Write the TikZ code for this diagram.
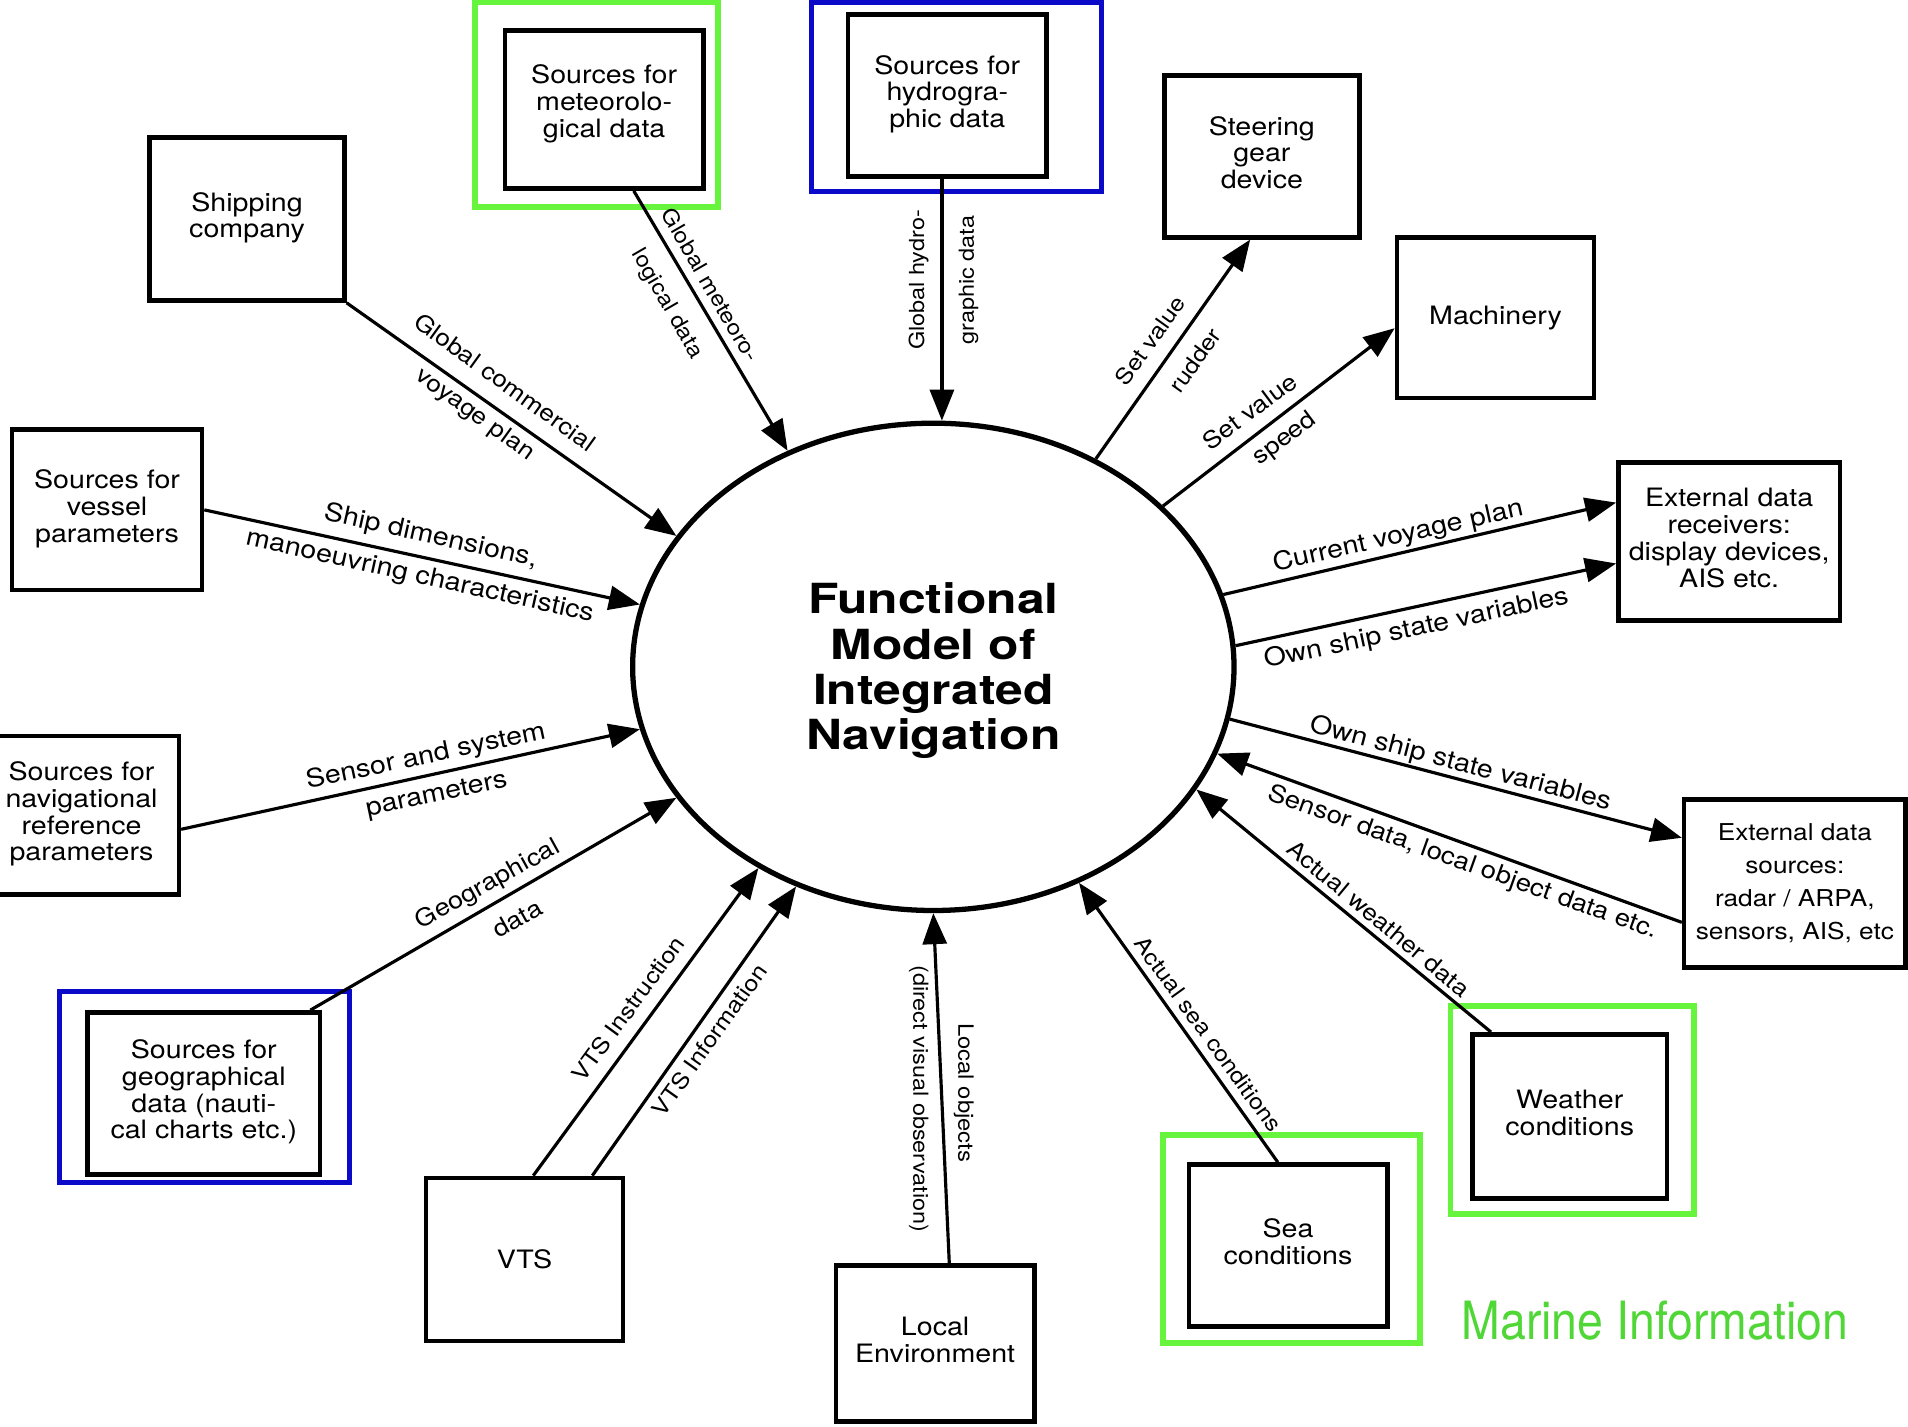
\documentclass[tikz,border=0pt]{standalone}
\usepackage{fontspec}
\newfontfamily\dfont[FakeStretch=1.13]{TeX Gyre Heros}
\newfontfamily\tfont[FakeStretch=1.2]{TeX Gyre Heros}
\newfontfamily\mfont[FakeStretch=0.88]{TeX Gyre Heros}
\usetikzlibrary{shapes.geometric,arrows.meta,fit,calc}
\definecolor{hlgreen}{RGB}{102,245,60}
\definecolor{mgreen}{RGB}{80,215,55}
\definecolor{hlblue}{RGB}{10,10,200}
\newcommand{\mlines}[1]{\begin{tabular}{@{}c@{}}#1\end{tabular}}
\begin{document}
\begin{tikzpicture}[x=0.012168cm, y=-0.012168cm,
 box/.style args={#1/#2}{draw, line width=1.3pt, inner sep=0pt,
   minimum width=#1*0.012168cm, minimum height=#2*0.012168cm,
   font=\dfont\fontsize{7.2}{7.6}\selectfont},
 lbl/.style={inner sep=0pt, font=\dfont\fontsize{#1}{#1}\selectfont},
 lbl/.default=7.2,
 arr/.style={line width=0.9pt, -{Triangle[length=3.1mm,width=2.4mm]}},
 hlg/.style={draw=hlgreen, line width=1.7pt, inner sep=0pt},
 hlb/.style={draw=hlblue, line width=1.4pt, inner sep=0pt}]
\useasboundingbox (0,0) rectangle (1568,1172);
\clip (0,0) rectangle (1568,1172);

% highlight frames
\node[hlg, fit={(390,2) (590,170)}] (meteoframe) {};
\node[hlb, fit={(667,2) (905,157)}] (hydroframe) {};
\node[hlb, fit={(49,815) (287,972)}] (geoframe) {};
\node[hlg, fit={(1192,827) (1392,998)}] (weatherframe) {};
\node[hlg, fit={(956,933) (1167,1104)}] (seaframe) {};

% central ellipse
\node[draw, ellipse, line width=1.5pt, inner sep=0pt, minimum width=6.01cm, minimum height=4.87cm,
      font=\tfont\bfseries\fontsize{11.8}{12.9}\selectfont] (fm) at (767,548)
      {\mlines{\rule{0pt}{12.4pt}Functional\\Model of\\Integrated\\Navigation}};

% boxes
\node[box=160/134] (ship) at (203,180) {\mlines{Shipping\\company}};
\node[box=163/130] (meteo) at (496.5,90) {\mlines{Sources for\\meteorolo-\\gical data\\[2.5pt]}};
\node[box=163/133] (hydro) at (778.5,78.5) {\mlines{Sources for\\hydrogra-\\phic data}};
\node[box=160/133] (steer) at (1037,128.5) {\mlines{Steering\\gear\\device}};
\node[box=162/132] (mach) at (1229,261) {Machinery};
\node[box=182/130] (recv) at (1421,445) {\mlines{External data\\receivers:\\display devices,\\AIS etc.}};
\node[box=182/138, font=\dfont\fontsize{6.6}{9.3}\selectfont] (src) at (1475,726) {\mlines{External data\\sources:\\radar / ARPA,\\sensors, AIS, etc}};
\node[box=160/135] (weather) at (1290,917.5) {\mlines{Weather\\conditions}};
\node[box=163/133] (sea) at (1058.5,1023.5) {\mlines{Sea\\conditions}};
\node[box=163/128] (local) at (768.5,1104) {\mlines{Local\\Environment}};
\node[box=162/134] (vts) at (431,1035) {VTS};
\node[box=191/133] (geo) at (167.5,898.5) {\mlines{Sources for\\geographical\\data (nauti-\\cal charts etc.)}};
\node[box=160/130] (nav) at (67,670) {\mlines{Sources for\\navigational\\reference\\parameters}};
\node[box=156/132] (vessel) at (88,419) {\mlines{Sources for\\vessel\\parameters}};

% connectors
\draw[arr] (ship.south east) -- (fm.153.7);
\draw[arr] (vessel.east) -- (fm.168);
\draw[arr] (meteo.-70) -- (fm.124.9);
\draw[arr] (hydro.south -| fm.88.3) -- (fm.88.3);
\draw[arr] (fm.52.5) -- (steer.-98);
\draw[arr] (fm.35.9) -- (mach.186);
\draw[arr] (fm.14.2) -- (recv.161.8);
\draw[arr] (fm.4.2) -- (recv.191.8);
\draw[arr] (fm.-10.5) -- (src.158.4);
\draw[arr] (src.199.4) -- (fm.-17.3);
\draw[arr] (weather.133.9) -- (fm.-25.6);
\draw[arr] (sea.97.3) -- (fm.-56.7);
\draw[arr] (local.80.8) -- (fm.south);
\draw[arr] (vts.84.9) -- (fm.229.2);
\draw[arr] (vts.51.1) -- (fm.238.1);
\draw[arr] (geo.38.9) -- (fm.207.6);
\draw[arr] (nav.-8.3) -- (fm.192.2);

% connector labels
\node[lbl=6.6, rotate=-35.8] (l1a) at (415,314) {Global commercial};
\node[lbl=6.6, rotate=-35.8] (l1b) at (390,341) {voyage plan};
\node[lbl=6.1, rotate=-60] (l2a) at (584,234) {Global meteoro-};
\node[lbl=6.1, rotate=-60] (l2b) at (548,250) {logical data};
\node[lbl=5.9, rotate=90] (l3a) at (755,230) {Global hydro-};
\node[lbl=5.9, rotate=90] (l3b) at (796,230) {graphic data};
\node[lbl=6.3, rotate=54.4] (l4a) at (945,280) {Set value};
\node[lbl=6.3, rotate=54.4] (l4b) at (982,296) {rudder};
\node[lbl=6.7, rotate=36.8] (l5a) at (1027,338) {Set value};
\node[lbl=6.7, rotate=36.8] (l5b) at (1056,361) {speed};
\node[lbl, rotate=12.6] (l6) at (1149,441) {Current voyage plan};
\node[lbl, rotate=12] (l7) at (1164,517) {Own ship state variables};
\node[lbl, rotate=-14.6] (l8) at (1200,628) {Own ship state variables};
\node[lbl=6.9, rotate=-19.7] (l9) at (1202,709) {Sensor data, local object data etc.};
\node[lbl=6.55, rotate=-39.7] (l10) at (1133,755) {Actual weather data};
\node[lbl=6.25, rotate=-54.2] (l11) at (993,850) {Actual sea conditions};
\node[lbl=6.0, rotate=-90] (l12a) at (792,898) {Local objects};
\node[lbl=5.9, rotate=-90] (l12b) at (755,903) {(direct visual observation)};
\node[lbl=6.4, rotate=53.8] (l13) at (516,829) {VTS Instruction};
\node[lbl=6.3, rotate=54.6] (l14) at (583,855) {VTS Information};
\node[lbl=6.8, rotate=29] (l15a) at (401,727) {Geographical};
\node[lbl=6.8, rotate=29] (l15b) at (425,755) {data};
\node[lbl, rotate=11.9] (l16a) at (350,622) {Sensor and system};
\node[lbl, rotate=11.9] (l16b) at (359,654) {parameters};
\node[lbl, rotate=-12.5] (l17a) at (354,441) {Ship dimensions,};
\node[lbl, rotate=-12.5] (l17b) at (345,474) {manoeuvring characteristics};

\node[inner sep=0pt, text=mgreen, font=\mfont\fontsize{15}{15}\selectfont] (mi) at (1360,1085) {Marine Information};
\end{tikzpicture}
\end{document}
